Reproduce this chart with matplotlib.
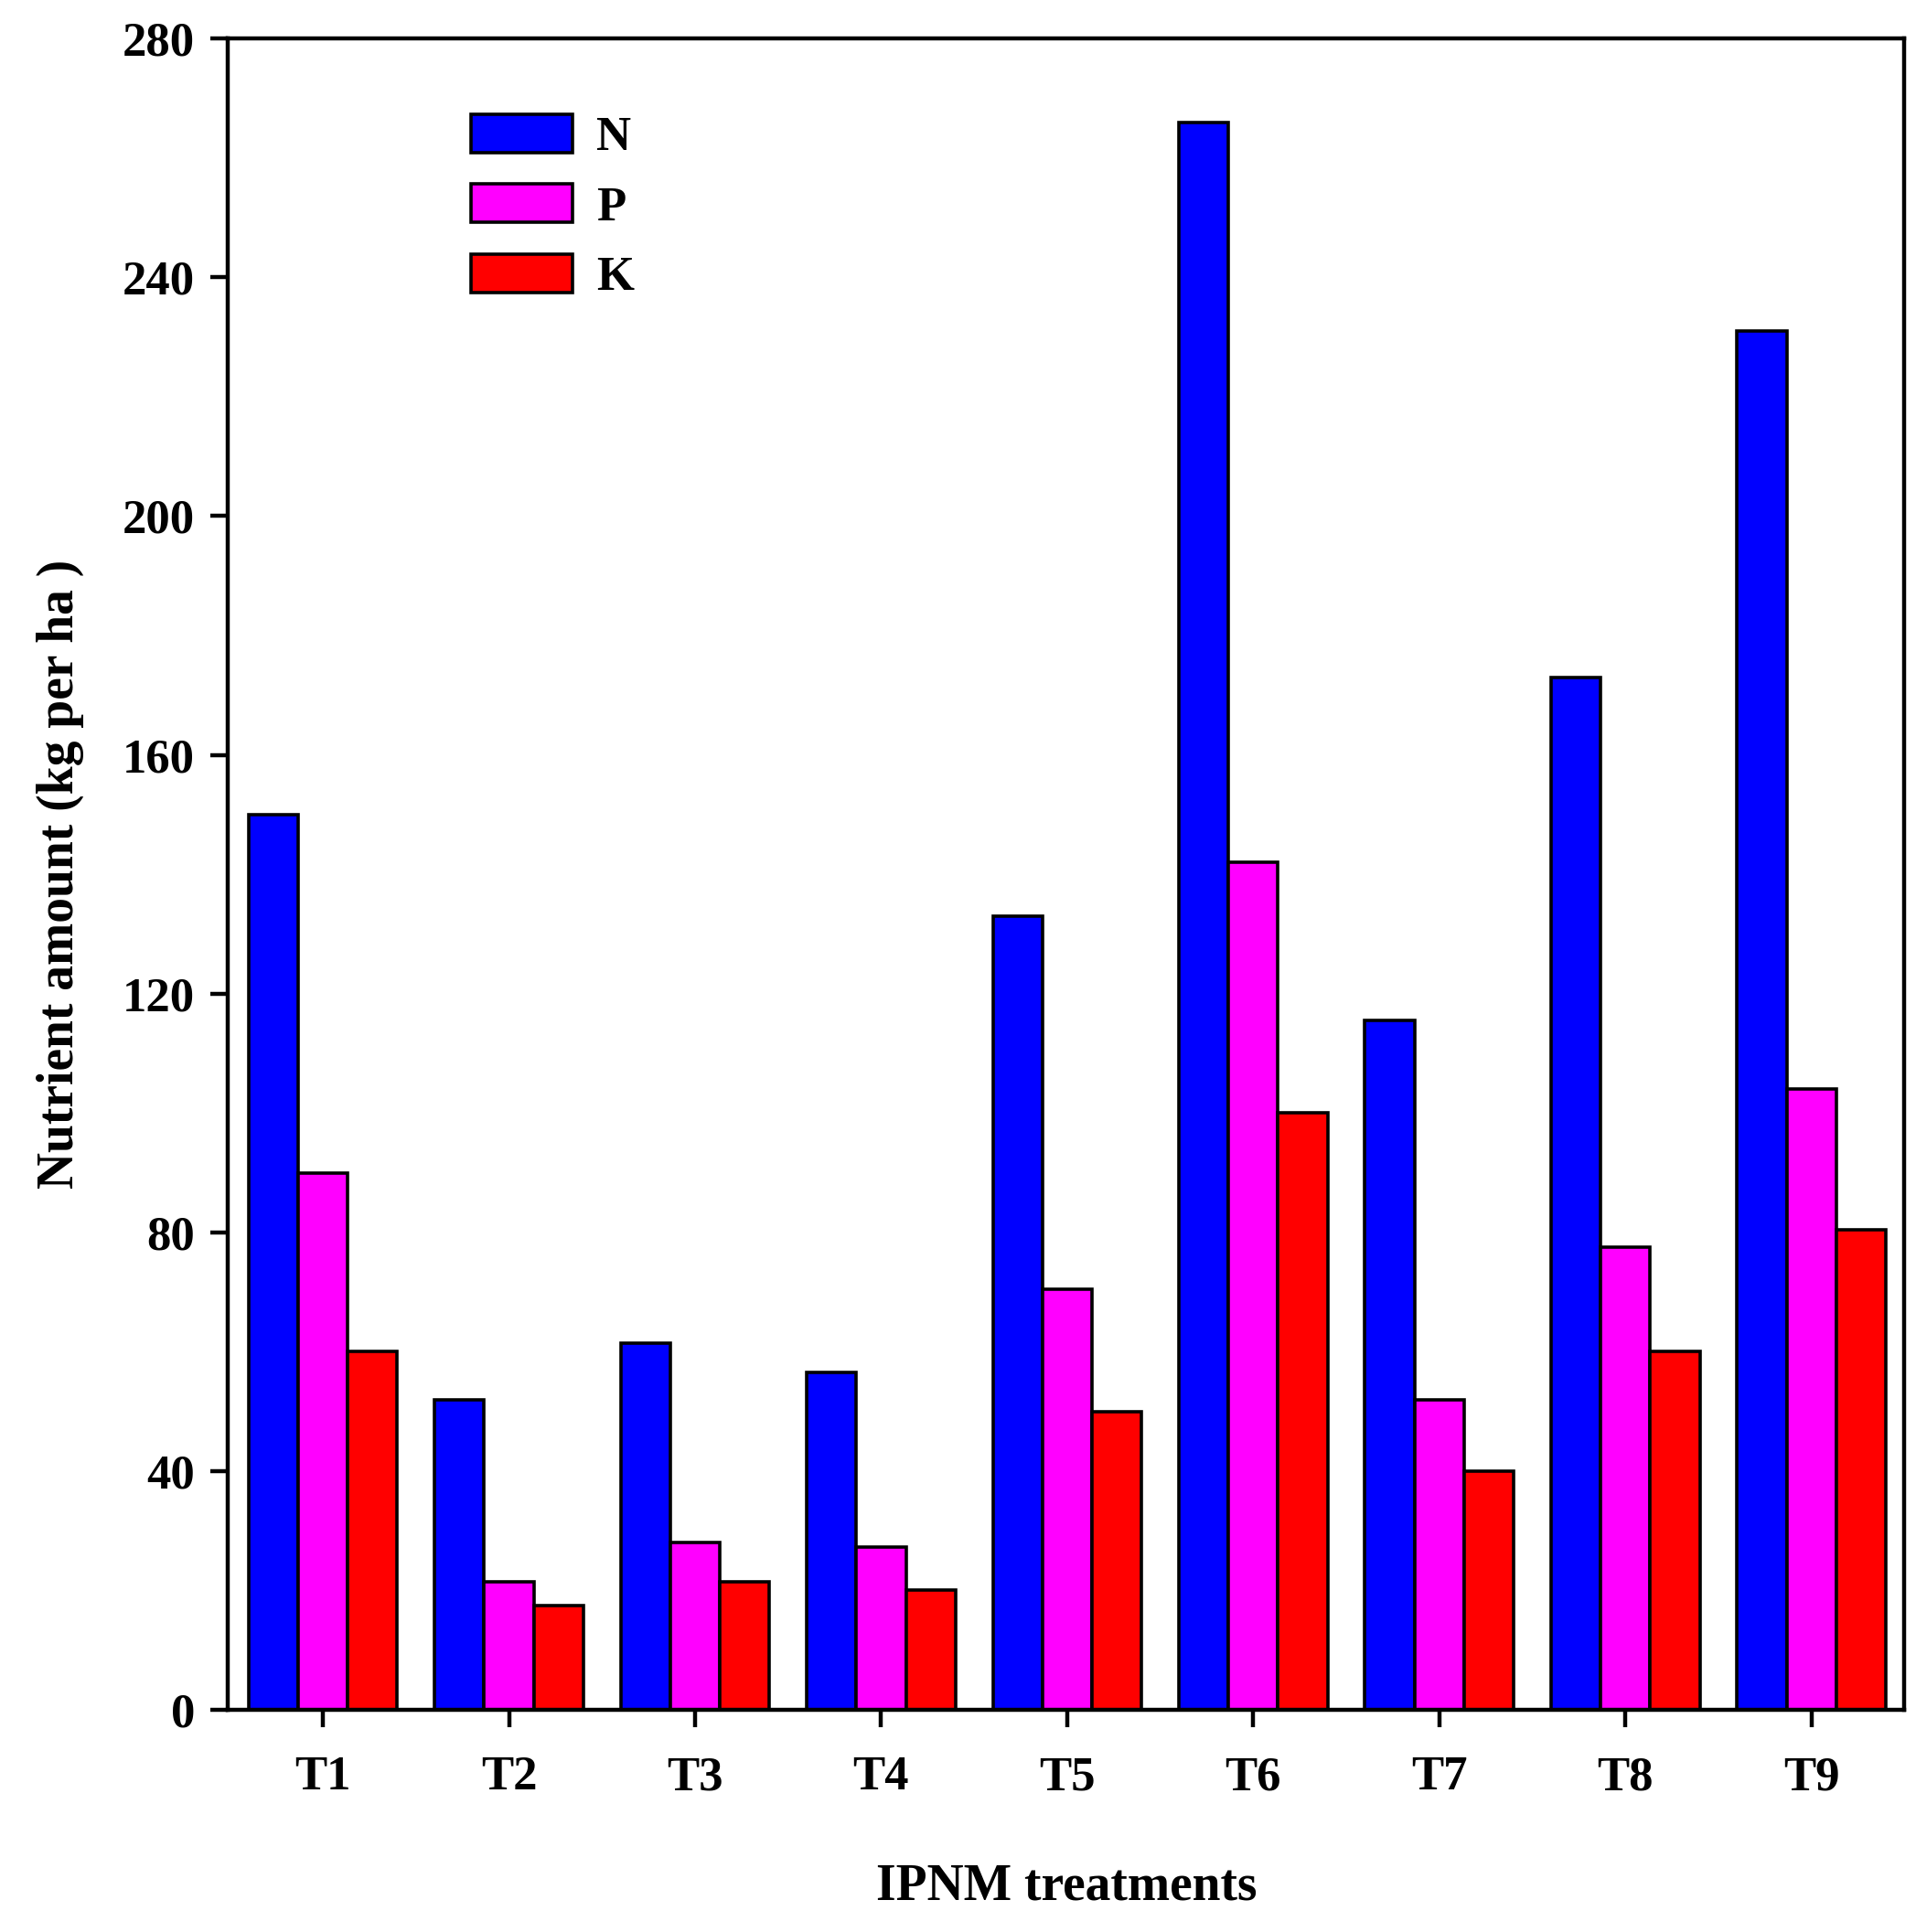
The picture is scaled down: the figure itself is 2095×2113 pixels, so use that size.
import matplotlib
matplotlib.use("Agg")
import matplotlib.pyplot as plt
import numpy as np

# treatments and nutrient amounts (kg per ha)
treatments = ['T1', 'T2', 'T3', 'T4', 'T5', 'T6', 'T7', 'T8', 'T9']
n_vals = [150, 52, 61.5, 56.5, 133, 266, 115.5, 173, 231]
p_vals = [90, 21.5, 28, 27.3, 70.5, 142, 52, 77.5, 104]
k_vals = [60, 17.5, 21.5, 20, 50, 100, 40, 60, 80.5]

plt.rcParams['font.family'] = ['Liberation Serif', 'DejaVu Serif']
plt.rcParams['font.weight'] = 'bold'

fig = plt.figure(figsize=(20.95, 21.13), dpi=100)
ax = fig.add_axes([0.119, 0.115, 0.875, 0.865])

x = np.arange(1, len(treatments) + 1)
w = 0.8 / 3
ax.bar(x - w, n_vals, w, color='#0000ff', edgecolor='black', linewidth=2.6, label='N')
ax.bar(x, p_vals, w, color='#ff00ff', edgecolor='black', linewidth=2.6, label='P')
ax.bar(x + w, k_vals, w, color='#ff0000', edgecolor='black', linewidth=2.6, label='K')

ax.set_xlim(0.49, 9.5)
ax.set_ylim(0, 280)
ax.set_yticks(np.arange(0, 281, 40))
ax.set_xticks(x)
ax.set_xticklabels(treatments)

for s in ax.spines.values():
    s.set_linewidth(3.2)
ax.tick_params(axis='both', direction='out', length=14, width=3.2, labelsize=38)
ax.tick_params(axis='x', pad=22)
ax.tick_params(axis='y', pad=12)

ax.set_xlabel('IPNM treatments', fontsize=40, fontweight='bold', labelpad=50)
ax.set_ylabel('Nutrient amount (kg per ha )', fontsize=40, fontweight='bold', labelpad=30)

ax.legend(loc='upper left', bbox_to_anchor=(0.145, 0.955), frameon=False,
          fontsize=38, handlelength=2.1, handleheight=0.85, labelspacing=0.5,
          handletextpad=0.5, borderpad=0, borderaxespad=0)

fig.savefig('out.png', dpi=100)
